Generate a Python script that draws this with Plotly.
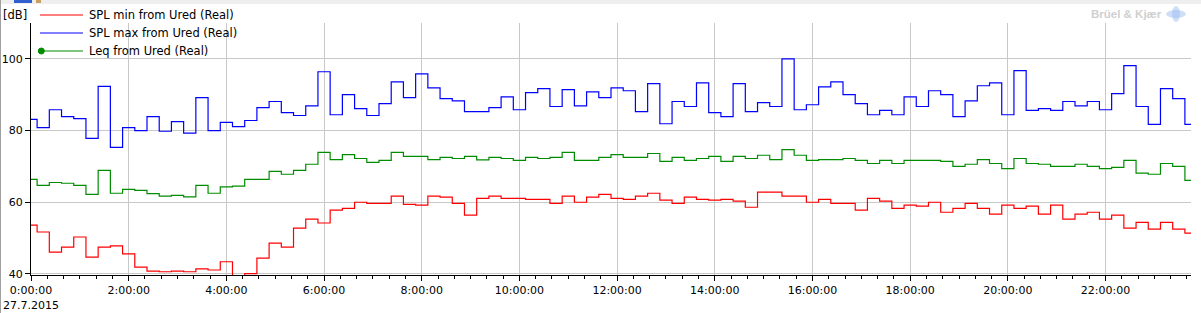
import pandas as pd
import plotly.graph_objects as go

# ---------------- data (15-minute values, 27.7.2015) ----------------
times = pd.date_range("2015-07-27 00:00", periods=96, freq="15min")

spl_max = [83.1, 80.8, 85.8, 83.9, 83.3, 77.8, 92.3, 75.3, 80.8, 80.0, 83.9, 79.8,
           82.5, 79.3, 89.2, 80.0, 82.3, 81.1, 82.8, 86.4, 88.1, 85.0, 84.2, 86.9,
           96.4, 84.4, 90.0, 86.1, 84.2, 87.5, 93.6, 89.2, 95.8, 91.9, 88.9, 88.3,
           85.3, 85.3, 86.4, 89.4, 85.8, 90.6, 91.7, 86.7, 91.4, 86.9, 90.8, 89.2,
           91.9, 91.1, 85.3, 93.1, 81.9, 88.1, 86.7, 93.3, 85.0, 83.9, 93.1, 85.3,
           87.8, 86.7, 100.0, 85.8, 87.2, 92.2, 93.6, 90.0, 87.5, 84.4, 85.6, 84.4,
           89.4, 86.7, 91.1, 90.0, 83.9, 88.3, 92.5, 93.3, 84.4, 96.7, 85.6, 86.1,
           85.6, 88.1, 86.9, 88.1, 85.8, 90.3, 98.1, 86.7, 81.7, 91.7, 88.9, 81.7]

leq = [66.4, 64.7, 65.5, 65.3, 64.7, 62.2, 68.9, 62.5, 63.6, 63.3, 62.4, 61.7,
       61.9, 61.5, 64.7, 62.5, 64.3, 64.5, 66.4, 66.4, 68.6, 67.8, 68.9, 70.6,
       73.9, 71.9, 73.3, 72.2, 71.1, 71.7, 73.9, 72.8, 72.8, 71.9, 72.5, 72.2,
       72.8, 71.8, 72.5, 72.2, 71.7, 72.5, 72.2, 72.5, 73.9, 71.7, 71.7, 72.5,
       73.3, 72.5, 72.5, 73.6, 71.4, 72.5, 71.7, 72.2, 72.8, 71.4, 72.8, 72.2,
       73.1, 71.9, 74.7, 73.1, 71.7, 71.9, 71.9, 72.2, 71.7, 70.8, 71.7, 70.8,
       71.7, 71.7, 71.7, 71.4, 70.0, 70.6, 71.9, 70.8, 69.4, 72.2, 70.8, 70.6,
       70.0, 70.0, 70.6, 70.0, 69.4, 69.7, 71.7, 68.1, 67.8, 70.8, 70.0, 66.1]

spl_min = [53.6, 51.7, 46.1, 47.5, 50.3, 44.7, 47.5, 47.8, 45.6, 41.9, 40.8, 40.6,
           40.8, 40.6, 41.4, 41.1, 43.4, 38.5, 40.1, 44.4, 48.6, 47.5, 52.8, 55.3,
           54.2, 57.8, 58.3, 60.0, 59.7, 59.7, 61.7, 59.4, 59.2, 61.7, 61.4, 59.7,
           56.4, 61.1, 61.7, 61.1, 61.1, 60.8, 60.8, 59.7, 61.7, 60.0, 61.4, 62.2,
           61.1, 60.8, 61.7, 62.5, 60.6, 59.7, 61.4, 60.8, 60.6, 60.8, 60.3, 58.6,
           62.8, 62.8, 61.7, 61.7, 60.0, 60.8, 59.7, 59.7, 57.8, 61.1, 60.3, 58.3,
           59.2, 58.9, 60.0, 57.2, 58.3, 59.7, 58.3, 56.7, 59.2, 58.3, 58.9, 56.7,
           59.2, 55.3, 56.7, 57.2, 55.3, 56.4, 52.8, 54.4, 52.5, 54.4, 52.5, 51.4]

series_names = ["SPL min from Ured (Real)", "SPL max from Ured (Real)", "Leq from Ured (Real)"]
series_colors = ["#FF0000", "#0000FF", "#008C00"]
y_ticks = [40, 60, 80, 100]
date_label = "27.7.2015"

# ---------------- layout geometry ----------------
W, H = 1201, 313
ML, MR, MT, MB = 31, 10, 23, 38
PW, PH = W - ML - MR, H - MT - MB


def px(xp):
    return (xp - ML) / PW


def py(yp):
    return (H - MB - yp) / PH


fig = go.Figure()
for name, vals, col in zip(series_names, [spl_min, spl_max, leq], series_colors):
    fig.add_trace(go.Scatter(x=times, y=vals, name=name, mode="lines",
                             line=dict(color=col, width=1.2, shape="hvh"),
                             showlegend=False))

FONT = "DejaVu Sans"
shapes = []
annotations = []

# custom legend (line samples + labels)
rows_y = [15, 33, 51]
for name, col, ry in zip(series_names, series_colors, rows_y):
    shapes.append(dict(type="line", xref="paper", yref="paper",
                       x0=px(40), x1=px(83), y0=py(ry), y1=py(ry),
                       line=dict(color=col, width=1.2)))
    annotations.append(dict(text=name, xref="paper", yref="paper", x=px(87), y=py(ry),
                            xanchor="left", yanchor="middle", showarrow=False,
                            font=dict(family=FONT, size=11.5, color="#000000")))
shapes.append(dict(type="circle", xref="paper", yref="paper",
                   x0=px(38.3), x1=px(44.3), y0=py(48), y1=py(54),
                   fillcolor=series_colors[2], line=dict(color=series_colors[2], width=1)))

# unit label, date label, watermark
annotations.append(dict(text="[dB]", xref="paper", yref="paper", x=px(1), y=py(15),
                        xanchor="left", yanchor="middle", showarrow=False,
                        font=dict(family=FONT, size=11.5, color="#000000")))
annotations.append(dict(text=date_label, xref="paper", yref="paper", x=px(1), y=py(305),
                        xanchor="left", yanchor="middle", showarrow=False,
                        font=dict(family=FONT, size=11, color="#000000")))
annotations.append(dict(text="<b>Brüel &amp; Kjær</b>", xref="paper", yref="paper",
                        x=px(1164), y=py(14), xanchor="right", yanchor="middle",
                        showarrow=False,
                        font=dict(family="Liberation Sans", size=11.5, color="#CFCFCF")))
# faint logo
shapes.append(dict(type="circle", xref="paper", yref="paper",
                   x0=px(1166), x1=px(1186), y0=py(10), y1=py(18),
                   fillcolor="rgba(150,185,240,0.45)", line=dict(width=0)))
shapes.append(dict(type="circle", xref="paper", yref="paper",
                   x0=px(1172), x1=px(1180), y0=py(6), y1=py(22),
                   fillcolor="rgba(150,185,240,0.45)", line=dict(width=0)))

# window chrome remnants: top band and left border
shapes.append(dict(type="rect", xref="paper", yref="paper", x0=px(0), x1=px(W),
                   y0=py(0), y1=py(4), fillcolor="#EEEEEE", line=dict(width=0), layer="below"))
shapes.append(dict(type="rect", xref="paper", yref="paper", x0=px(14), x1=px(32),
                   y0=py(0), y1=py(3), fillcolor="#2F5FCF", line=dict(width=0)))
shapes.append(dict(type="rect", xref="paper", yref="paper", x0=px(36), x1=px(41),
                   y0=py(0), y1=py(3), fillcolor="#C8A060", line=dict(width=0)))
shapes.append(dict(type="line", xref="paper", yref="paper", x0=px(0.5), x1=px(0.5),
                   y0=py(0), y1=py(H), line=dict(color="#A0A0A0", width=1)))

fig.update_layout(
    width=W, height=H, autosize=False,
    margin=dict(l=ML, r=MR, t=MT, b=MB, pad=0, autoexpand=False),
    paper_bgcolor="#FFFFFF", plot_bgcolor="#FFFFFF",
    font=dict(family=FONT, size=11, color="#000000"),
    showlegend=False,
    shapes=shapes, annotations=annotations,
    xaxis=dict(type="date", range=[times[0], times[-1]], automargin=False,
               tick0=times[0], dtick=2 * 3600 * 1000, tickformat="%-H:%M:%S",
               ticks="outside", ticklen=5, tickcolor="#000000", tickwidth=1,
               showline=True, linecolor="#000000", linewidth=1,
               showgrid=True, gridcolor="#C8C8C8", gridwidth=1, zeroline=False,
               tickfont=dict(family=FONT, size=11, color="#000000"),
               minor=dict(ticks="outside", ticklen=3, dtick=20 * 60 * 1000,
                          tickcolor="#000000", showgrid=False)),
    yaxis=dict(range=[39.7, 110], tickvals=y_ticks, automargin=False,
               ticks="outside", ticklen=5, tickcolor="#000000", tickwidth=1,
               showline=True, linecolor="#000000", linewidth=1,
               showgrid=True, gridcolor="#C8C8C8", gridwidth=1, zeroline=False,
               tickfont=dict(family=FONT, size=11, color="#000000")),
)

fig.write_html("out.html")
